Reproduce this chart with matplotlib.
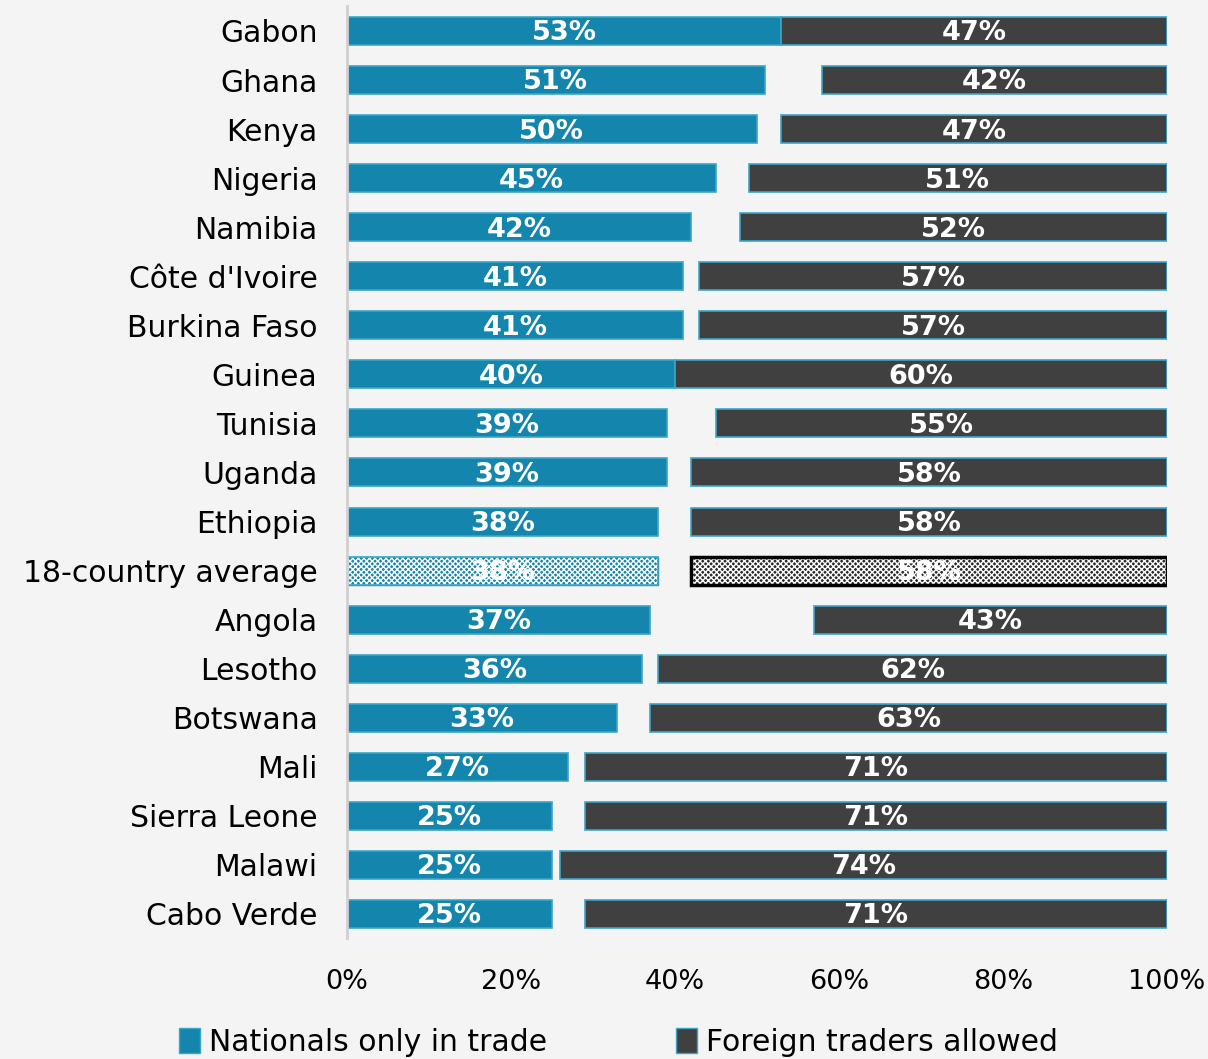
import matplotlib.pyplot as plt
from matplotlib.patches import Patch
from matplotlib.ticker import PercentFormatter

# survey share by country
countries = ["Gabon", "Ghana", "Kenya", "Nigeria", "Namibia", "Côte d'Ivoire",
             "Burkina Faso", "Guinea", "Tunisia", "Uganda", "Ethiopia",
             "18-country average", "Angola", "Lesotho", "Botswana", "Mali",
             "Sierra Leone", "Malawi", "Cabo Verde"]
nationals = [53, 51, 50, 45, 42, 41, 41, 40, 39, 39, 38, 38, 37, 36, 33, 27, 25, 25, 25]
foreign = [47, 42, 47, 51, 52, 57, 57, 60, 55, 58, 58, 58, 43, 62, 63, 71, 71, 74, 71]
avg_name = "18-country average"

teal = "#1485ad"
teal_edge = "#3aa6c8"
dark = "#404040"
bg = "#f4f4f4"

plt.rcParams['font.family'] = ['DejaVu Sans']
plt.rcParams['hatch.linewidth'] = 1.0

fig = plt.figure(figsize=(12.08, 10.59), dpi=100, facecolor=bg)
ax = fig.add_axes([0.287, 0.1138, 0.679, 0.8801])
ax.set_facecolor(bg)

y = list(range(len(countries)))
h = 0.57
for i, c in enumerate(countries):
    n = nationals[i]
    f = foreign[i]
    left_f = 100 - f
    if c == avg_name:
        ax.barh(i, n, height=h, color=teal, edgecolor=teal, linewidth=1)
        ax.barh(i, n, height=h, color="none", edgecolor="white", hatch="xxxxxx", linewidth=0)
        ax.barh(i, n, height=h, color="none", edgecolor=teal_edge, linewidth=1.2)
        ax.barh(i, f, left=left_f, height=h, color="#2a2a2a", linewidth=0)
        ax.barh(i, f, left=left_f, height=h, color="none", edgecolor="white", hatch="xxxxxx", linewidth=0)
        ax.barh(i, f, left=left_f, height=h, color="none", edgecolor="black", linewidth=2.5)
    else:
        ax.barh(i, n, height=h, color=teal, edgecolor=teal_edge, linewidth=1.2)
        ax.barh(i, f, left=left_f, height=h, color=dark, edgecolor=teal_edge, linewidth=1.2)
    ax.text(n / 2, i + 0.05, f"{n}%", ha="center", va="center", color="white",
            fontsize=19.5, fontweight="bold")
    ax.text(left_f + f / 2, i + 0.05, f"{f}%", ha="center", va="center", color="white",
            fontsize=19.5, fontweight="bold")

ax.set_xlim(0, 100)
ax.set_ylim(len(countries) - 0.5, -0.5)
ax.set_yticks(y)
ax.set_yticklabels(countries, fontsize=21.5)
ax.set_xticks([0, 20, 40, 60, 80, 100])
ax.xaxis.set_major_formatter(PercentFormatter(decimals=0))
ax.tick_params(axis="x", labelsize=19.5, length=0, pad=22)
ax.tick_params(axis="y", length=0, pad=21)
for s in ["top", "right", "bottom"]:
    ax.spines[s].set_visible(False)
ax.spines["left"].set_color("#d0d0d0")
ax.spines["left"].set_linewidth(2)

handles = [Patch(facecolor=teal, edgecolor=teal_edge, label="Nationals only in trade"),
           Patch(facecolor=dark, edgecolor=teal_edge, label="Foreign traders allowed")]
fig.legend(handles=handles, loc="center", bbox_to_anchor=(0.512, 0.016), ncol=2,
           frameon=False, fontsize=21.5, handlelength=0.7, handleheight=0.9,
           handletextpad=0.3, columnspacing=4.3)

fig.savefig("out.png", dpi=100, facecolor=bg)
